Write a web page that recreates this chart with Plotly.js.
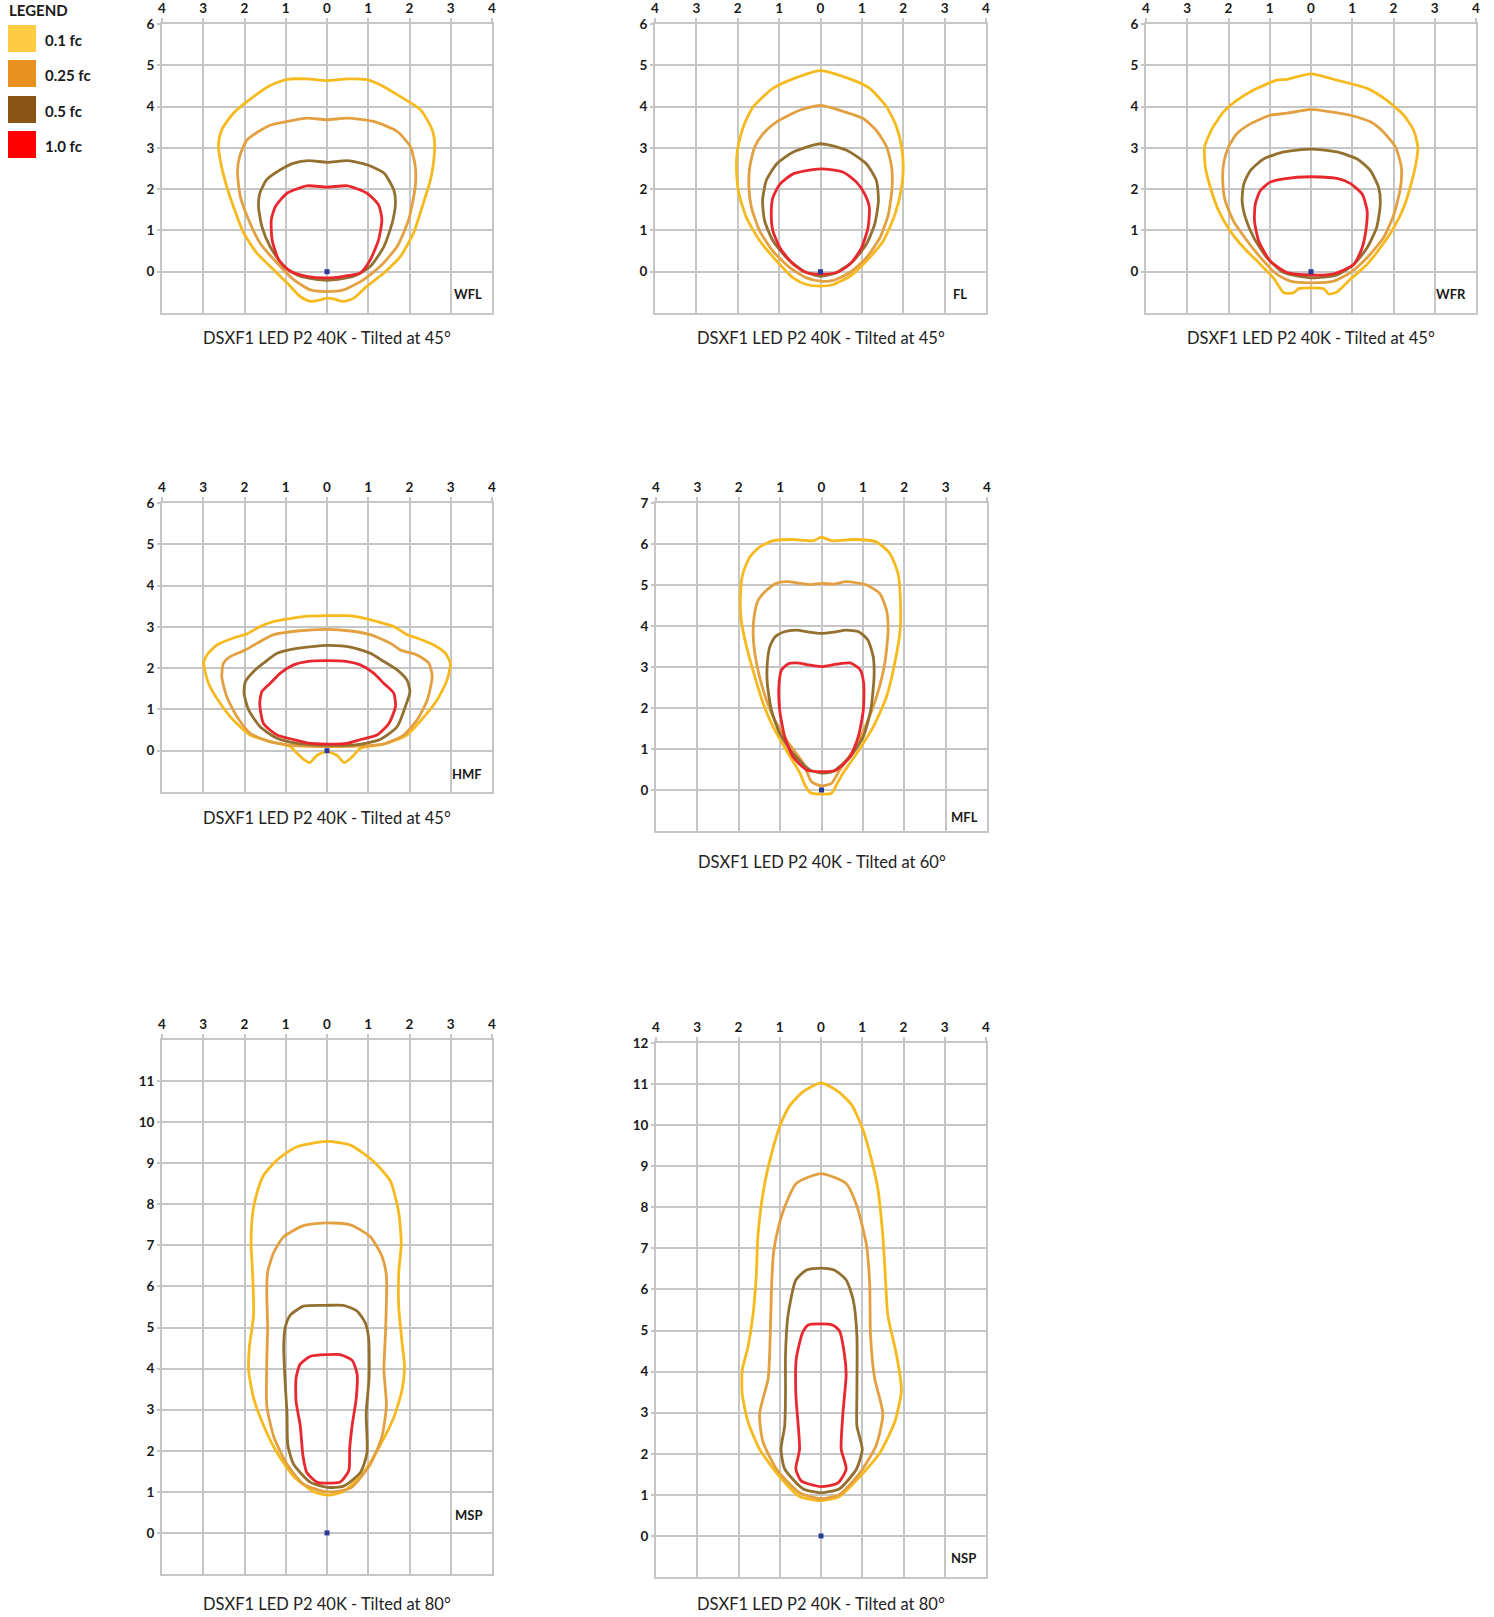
<!DOCTYPE html>
<html>
<head>
<meta charset="utf-8">
<script src="https://cdn.plot.ly/plotly-3.0.1.min.js"></script>
<style>html,body{margin:0;padding:0;background:#fff;}#chart{width:1494px;height:1617px;}</style>
</head>
<body>
<div id="chart"></div>
<script>
// ---------- categories / labels ----------
const levelNames = ['0.1 fc', '0.25 fc', '0.5 fc', '1.0 fc'];
const panelCodes = ['WFL', 'FL', 'WFR', 'HMF', 'MFL', 'MSP', 'NSP'];
const panelTitles = [
  'DSXF1 LED P2 40K - Tilted at 45°',
  'DSXF1 LED P2 40K - Tilted at 45°',
  'DSXF1 LED P2 40K - Tilted at 45°',
  'DSXF1 LED P2 40K - Tilted at 45°',
  'DSXF1 LED P2 40K - Tilted at 60°',
  'DSXF1 LED P2 40K - Tilted at 80°',
  'DSXF1 LED P2 40K - Tilted at 80°'
];
const xTickVals = [-4, -3, -2, -1, 0, 1, 2, 3, 4];
const xTickText = ['4', '3', '2', '1', '0', '1', '2', '3', '4'];
const yRangeMax = [6, 6, 6, 6, 7, 12, 12];
const yLabelMax = [6, 6, 6, 6, 7, 11, 12];

// ---------- isofootcandle contours (x, y in units of mounting height) ----------
const WFL_01 = [[0,4.63],[-0.5,4.67],[-0.97,4.66],[-1.4,4.5],[-1.78,4.24],[-2.27,3.84],[-2.55,3.44],[-2.63,3.11],[-2.59,2.71],[-2.43,2.06],[-2.27,1.58],[-2.02,0.94],[-1.70,0.45],[-1.38,0.13],[-0.97,-0.27],[-0.65,-0.60],[-0.40,-0.72],[-0.16,-0.68],[0,-0.64],[0.16,-0.66],[0.40,-0.72],[0.65,-0.64],[0.97,-0.35],[1.38,-0.03],[1.78,0.37],[2.10,0.94],[2.31,1.58],[2.51,2.23],[2.59,2.71],[2.61,3.11],[2.55,3.44],[2.27,3.92],[1.78,4.24],[1.4,4.47],[0.97,4.65],[0.5,4.67],[0,4.63]];
const WFL_025 = [[0,3.68],[-0.49,3.72],[-0.97,3.64],[-1.35,3.56],[-1.62,3.42],[-1.94,3.19],[-2.12,2.79],[-2.17,2.39],[-2.10,1.82],[-1.90,1.26],[-1.62,0.69],[-1.21,0.21],[-0.81,-0.19],[-0.40,-0.44],[0,-0.48],[0.40,-0.44],[0.89,-0.19],[1.29,0.13],[1.70,0.61],[1.98,1.26],[2.14,2.06],[2.14,2.55],[2.02,3.03],[1.70,3.40],[1.13,3.64],[0.49,3.72],[0,3.68]];
const WFL_05 = [[0,2.65],[-0.45,2.69],[-0.8,2.63],[-1.13,2.47],[-1.46,2.23],[-1.63,1.90],[-1.66,1.58],[-1.58,1.10],[-1.38,0.61],[-1.05,0.13],[-0.65,-0.11],[0,-0.21],[0.65,-0.11],[1.05,0.13],[1.38,0.61],[1.58,1.18],[1.66,1.66],[1.62,1.98],[1.38,2.39],[0.97,2.59],[0.5,2.69],[0,2.65]];
const WFL_10 = [[0,2.05],[-0.49,2.08],[-0.97,1.90],[-1.25,1.58],[-1.35,1.26],[-1.33,0.77],[-1.17,0.29],[-0.89,0.01],[-0.49,-0.11],[0,-0.15],[0.40,-0.11],[0.81,-0.03],[1.05,0.29],[1.25,0.77],[1.33,1.26],[1.25,1.62],[0.97,1.90],[0.5,2.08],[0,2.05]];

const FL_01 = [[0,4.87],[-0.74,4.64],[-1.15,4.44],[-1.63,3.99],[-1.87,3.50],[-2.01,2.93],[-2.03,2.45],[-1.97,1.88],[-1.79,1.31],[-1.47,0.75],[-1.06,0.26],[-0.66,-0.15],[-0.34,-0.31],[0,-0.35],[0.31,-0.31],[0.71,-0.11],[1.11,0.26],[1.52,0.75],[1.80,1.39],[1.96,2.04],[2.00,2.53],[1.96,3.02],[1.84,3.50],[1.60,3.99],[1.19,4.44],[0.79,4.64],[0,4.87]];
const FL_025 = [[0,4.03],[-0.50,3.91],[-1.06,3.63],[-1.39,3.34],[-1.59,3.02],[-1.71,2.53],[-1.73,2.04],[-1.67,1.56],[-1.47,0.99],[-1.15,0.50],[-0.74,0.10],[-0.34,-0.15],[0,-0.23],[0.31,-0.21],[0.71,-0.02],[1.11,0.34],[1.44,0.83],[1.64,1.39],[1.73,2.04],[1.72,2.53],[1.60,3.02],[1.35,3.42],[1.03,3.71],[0.47,3.91],[0,4.03]];
const FL_05 = [[0,3.10],[-0.66,2.90],[-1.06,2.61],[-1.31,2.21],[-1.40,1.72],[-1.35,1.23],[-1.15,0.75],[-0.82,0.34],[-0.42,0.02],[0,-0.11],[0.39,-0.02],[0.79,0.26],[1.11,0.67],[1.31,1.15],[1.40,1.72],[1.35,2.21],[1.11,2.61],[0.63,2.94],[0,3.10]];
const FL_10 = [[0,2.49],[-0.66,2.37],[-0.98,2.12],[-1.15,1.80],[-1.19,1.39],[-1.15,0.99],[-0.98,0.58],[-0.66,0.18],[-0.34,-0.02],[0,-0.06],[0.39,-0.02],[0.71,0.18],[0.99,0.58],[1.15,1.07],[1.18,1.56],[1.07,1.88],[0.87,2.17],[0.55,2.41],[0,2.49]];

const WFR_01 = [[0,4.79],[-0.58,4.66],[-0.83,4.64],[-1.39,4.40],[-1.80,4.15],[-2.12,3.87],[-2.40,3.46],[-2.58,3.02],[-2.56,2.53],[-2.44,2.04],[-2.24,1.48],[-1.96,0.99],[-1.63,0.58],[-1.23,0.18],[-0.91,-0.15],[-0.66,-0.51],[-0.42,-0.51],[-0.30,-0.41],[0,-0.39],[0.31,-0.41],[0.43,-0.54],[0.63,-0.49],[0.95,-0.19],[1.36,0.18],[1.68,0.58],[2.01,1.07],[2.25,1.56],[2.45,2.21],[2.57,2.77],[2.59,3.02],[2.49,3.42],[2.25,3.79],[1.84,4.15],[1.36,4.44],[0.63,4.64],[0,4.79]];
const WFR_025 = [[0,3.93],[-0.58,3.84],[-0.99,3.79],[-1.47,3.58],[-1.80,3.34],[-2.00,3.02],[-2.12,2.61],[-2.14,2.21],[-2.08,1.72],[-1.88,1.23],[-1.55,0.75],[-1.15,0.26],[-0.83,-0.06],[-0.50,-0.23],[0,-0.27],[0.55,-0.23],[0.95,-0.02],[1.36,0.34],[1.76,0.83],[2.01,1.39],[2.17,2.04],[2.19,2.53],[2.05,3.02],[1.76,3.38],[1.44,3.63],[0.95,3.79],[0.47,3.87],[0,3.93]];
const WFR_05 = [[0,2.97],[-0.66,2.90],[-1.15,2.73],[-1.47,2.45],[-1.63,2.12],[-1.67,1.72],[-1.59,1.31],[-1.39,0.83],[-1.07,0.34],[-0.66,-0.02],[0,-0.15],[0.63,-0.08],[1.04,0.18],[1.36,0.58],[1.59,1.07],[1.68,1.64],[1.64,2.04],[1.44,2.45],[1.12,2.73],[0.63,2.90],[0,2.97]];
const WFR_10 = [[0,2.30],[-0.66,2.25],[-0.99,2.17],[-1.23,1.96],[-1.35,1.64],[-1.37,1.23],[-1.27,0.75],[-0.99,0.26],[-0.58,-0.02],[0,-0.08],[0.55,-0.05],[1.04,0.18],[1.24,0.58],[1.34,1.07],[1.36,1.48],[1.24,1.88],[0.95,2.14],[0.63,2.26],[0,2.30]];

const HMF_01 = [[0,3.27],[-0.57,3.25],[-0.97,3.19],[-1.29,3.13],[-1.62,3.01],[-1.94,2.83],[-2.27,2.73],[-2.67,2.56],[-2.91,2.32],[-2.99,2.12],[-2.87,1.63],[-2.59,1.15],[-2.27,0.74],[-1.86,0.38],[-1.38,0.22],[-0.89,0.10],[-0.73,-0.06],[-0.57,-0.21],[-0.42,-0.29],[-0.24,-0.11],[0,-0.02],[0.24,-0.11],[0.42,-0.29],[0.61,-0.15],[0.81,0.06],[1.37,0.16],[1.94,0.38],[2.35,0.82],[2.67,1.23],[2.91,1.71],[2.99,2.12],[2.87,2.36],[2.59,2.56],[2.18,2.73],[1.94,2.81],[1.62,3.01],[1.21,3.13],[0.89,3.21],[0.49,3.27],[0,3.27]];
const HMF_025 = [[0,2.94],[-0.73,2.90],[-1.29,2.81],[-1.70,2.60],[-1.98,2.44],[-2.35,2.28],[-2.51,2.12],[-2.55,1.79],[-2.43,1.31],[-2.18,0.82],[-1.86,0.42],[-1.38,0.22],[-0.73,0.12],[0,0.10],[0.73,0.11],[1.37,0.16],[1.86,0.38],[2.18,0.74],[2.43,1.23],[2.55,1.79],[2.47,2.12],[2.18,2.32],[1.78,2.44],[1.54,2.60],[1.05,2.81],[0.57,2.90],[0,2.94]];
const HMF_05 = [[0,2.55],[-0.73,2.48],[-1.21,2.36],[-1.54,2.12],[-1.78,1.92],[-1.98,1.67],[-2.01,1.39],[-1.90,0.99],[-1.62,0.58],[-1.21,0.30],[-0.73,0.18],[0,0.13],[0.73,0.15],[1.29,0.27],[1.70,0.58],[1.90,1.07],[2.01,1.43],[1.94,1.71],[1.70,1.96],[1.38,2.16],[1.05,2.36],[0.57,2.51],[0,2.55]];
const HMF_10 = [[0,2.18],[-0.49,2.16],[-0.81,2.08],[-1.13,1.88],[-1.38,1.63],[-1.58,1.43],[-1.63,1.15],[-1.54,0.66],[-1.21,0.38],[-0.81,0.27],[-0.49,0.19],[0,0.16],[0.49,0.18],[0.81,0.27],[1.21,0.38],[1.50,0.66],[1.66,1.07],[1.62,1.39],[1.38,1.63],[1.13,1.88],[0.81,2.08],[0.49,2.16],[0,2.18]];

const MFL_01 = [[0,6.17],[-0.20,6.08],[-0.69,6.11],[-1.17,6.08],[-1.49,5.93],[-1.73,5.69],[-1.90,5.28],[-1.96,4.71],[-1.94,4.14],[-1.81,3.49],[-1.61,2.76],[-1.41,2.11],[-1.17,1.54],[-0.85,0.97],[-0.52,0.41],[-0.40,0.12],[-0.28,-0.06],[0,-0.10],[0.24,-0.08],[0.36,0.12],[0.52,0.41],[0.85,0.89],[1.25,1.54],[1.57,2.27],[1.77,3.09],[1.90,3.90],[1.91,4.55],[1.85,5.28],[1.65,5.77],[1.33,6.05],[0.77,6.11],[0.24,6.08],[0,6.17]];
const MFL_025 = [[0,5.04],[-0.28,5.01],[-0.85,5.08],[-1.09,5.04],[-1.33,4.87],[-1.53,4.63],[-1.63,4.22],[-1.65,3.74],[-1.57,3.09],[-1.41,2.44],[-1.17,1.79],[-0.85,1.22],[-0.44,0.65],[-0.24,0.20],[0,0.10],[0.24,0.16],[0.44,0.49],[0.77,0.97],[1.09,1.62],[1.33,2.27],[1.53,3.09],[1.61,3.90],[1.57,4.39],[1.41,4.79],[1.09,5.00],[0.60,5.08],[0.28,5.02],[0,5.04]];
const MFL_05 = [[0,3.82],[-0.3,3.85],[-0.6,3.90],[-0.9,3.86],[-1.12,3.74],[-1.25,3.49],[-1.31,3.09],[-1.31,2.60],[-1.21,1.95],[-1.01,1.38],[-0.69,0.89],[-0.28,0.49],[0,0.41],[0.28,0.45],[0.69,0.81],[1.01,1.30],[1.19,1.95],[1.27,2.76],[1.25,3.25],[1.12,3.66],[0.9,3.86],[0.6,3.90],[0.3,3.85],[0,3.82]];
const MFL_10 = [[0,3.01],[-0.36,3.06],[-0.6,3.1],[-0.80,3.08],[-0.97,2.92],[-1.03,2.52],[-1.01,1.95],[-0.89,1.30],[-0.69,0.81],[-0.36,0.49],[0,0.45],[0.36,0.49],[0.69,0.81],[0.89,1.30],[1.01,1.95],[1.02,2.60],[0.93,2.94],[0.69,3.10],[0.36,3.07],[0,3.01]];

const MSP_01 = [[0,9.53],[-0.73,9.40],[-1.21,9.08],[-1.54,8.70],[-1.70,8.27],[-1.80,7.79],[-1.84,7.03],[-1.80,6.26],[-1.78,5.30],[-1.88,4.54],[-1.90,3.96],[-1.78,3.29],[-1.54,2.62],[-1.21,1.95],[-0.81,1.38],[-0.32,1.00],[0.04,0.92],[0.40,1.01],[0.89,1.47],[1.29,2.14],[1.62,2.81],[1.82,3.48],[1.88,4.06],[1.82,4.63],[1.74,5.49],[1.74,6.35],[1.80,7.03],[1.74,7.79],[1.54,8.56],[1.13,9.04],[0.57,9.44],[0,9.53]];
const MSP_025 = [[0,7.55],[-0.57,7.48],[-1.05,7.21],[-1.29,6.83],[-1.44,6.35],[-1.46,5.88],[-1.44,5.01],[-1.46,4.15],[-1.46,3.10],[-1.29,2.34],[-0.97,1.67],[-0.57,1.19],[0,1.00],[0.57,1.09],[1.05,1.67],[1.33,2.34],[1.44,3.10],[1.38,3.96],[1.42,4.92],[1.44,6.26],[1.33,6.74],[1.05,7.21],[0.57,7.50],[0,7.55]];
const MSP_05 = [[0,5.54],[-0.57,5.52],[-0.89,5.30],[-1.01,5.01],[-1.05,4.54],[-1.01,3.58],[-0.97,2.91],[-0.95,2.14],[-0.81,1.67],[-0.40,1.23],[0,1.11],[0.40,1.14],[0.81,1.47],[0.97,1.95],[0.95,2.91],[1.02,3.77],[1.01,4.73],[0.93,5.11],[0.73,5.40],[0.40,5.54],[0,5.54]];
const MSP_10 = [[0,4.34],[-0.40,4.30],[-0.65,4.11],[-0.75,3.77],[-0.75,3.20],[-0.65,2.62],[-0.58,1.86],[-0.49,1.47],[-0.24,1.23],[0,1.21],[0.32,1.24],[0.53,1.52],[0.55,2.05],[0.61,2.62],[0.71,3.29],[0.73,3.87],[0.61,4.20],[0.32,4.34],[0,4.34]];

const NSP_01 = [[0,11.03],[-0.44,10.81],[-0.76,10.47],[-1.00,9.97],[-1.20,9.30],[-1.39,8.44],[-1.53,7.29],[-1.57,6.33],[-1.65,5.37],[-1.77,4.60],[-1.91,4.03],[-1.91,3.45],[-1.77,2.78],[-1.49,2.11],[-1.00,1.44],[-0.52,0.96],[0,0.86],[0.45,0.96],[0.94,1.44],[1.42,2.01],[1.79,2.78],[1.95,3.55],[1.83,4.41],[1.62,5.37],[1.56,6.33],[1.50,7.29],[1.38,8.44],[1.26,9.01],[1.02,9.88],[0.74,10.50],[0.41,10.82],[0,11.03]];
const NSP_025 = [[0,8.82],[-0.60,8.58],[-0.86,8.06],[-1.04,7.48],[-1.15,6.90],[-1.20,6.04],[-1.23,4.89],[-1.28,3.84],[-1.49,2.97],[-1.41,2.30],[-1.08,1.63],[-0.52,1.05],[0,0.91],[0.45,1.01],[0.94,1.53],[1.34,2.21],[1.50,2.97],[1.30,3.84],[1.20,4.89],[1.18,6.14],[1.10,7.10],[0.86,8.06],[0.61,8.58],[0,8.82]];
const NSP_05 = [[0,6.52],[-0.36,6.47],[-0.61,6.23],[-0.80,5.37],[-0.86,4.41],[-0.86,3.45],[-0.88,2.68],[-0.97,2.11],[-0.88,1.63],[-0.44,1.15],[0,1.05],[0.45,1.15],[0.86,1.63],[1.00,2.11],[0.87,2.68],[0.87,3.45],[0.87,4.89],[0.78,5.75],[0.61,6.23],[0.33,6.47],[0,6.52]];
const NSP_10 = [[0,5.16],[-0.32,5.13],[-0.45,4.94],[-0.60,4.31],[-0.61,3.45],[-0.52,2.11],[-0.61,1.63],[-0.48,1.34],[0,1.20],[0.41,1.29],[0.61,1.63],[0.49,2.11],[0.53,2.97],[0.61,3.93],[0.57,4.41],[0.45,4.99],[0.29,5.13],[0,5.16]];

const panelContours = [
  [WFL_01, WFL_025, WFL_05, WFL_10],
  [FL_01, FL_025, FL_05, FL_10],
  [WFR_01, WFR_025, WFR_05, WFR_10],
  [HMF_01, HMF_025, HMF_05, HMF_10],
  [MFL_01, MFL_025, MFL_05, MFL_10],
  [MSP_01, MSP_025, MSP_05, MSP_10],
  [NSP_01, NSP_025, NSP_05, NSP_10]
];
const fixturePoint = [0, 0];

// ---------- styling / layout (pixel boxes of each panel) ----------
const W = 1494, H = 1617;
const lineColors = ['#F6BA1E', '#E2A040', '#937030', '#E8282E'];
const swatchColors = ['#FFCC44', '#E89020', '#8A5512', '#FF0000'];
const boxes = [ // [left, right, top, bottom] in px
  [162, 492, 24, 313],
  [655, 986, 24, 313],
  [1146, 1476, 24, 313],
  [162, 492, 503, 792],
  [656, 987, 503, 831],
  [162, 492, 1040, 1574],
  [656, 986, 1043, 1577]
];
const titleY = [338, 338, 338, 818, 862, 1604, 1604];
const codePos = [[3.8, -0.54], [3.6, -0.55], [3.8, -0.55], [3.8, -0.57], [3.82, -0.65], [3.8, 0.44], [3.8, -0.54]];
const gridColor = '#C6C6C6';
const FONT = 'Lato, "Open Sans", sans-serif';

const px = v => v / W;
const py = v => 1 - v / H;

const traces = [];
const layout = {
  width: W, height: H,
  margin: {l: 0, r: 0, t: 0, b: 0},
  paper_bgcolor: '#fff', plot_bgcolor: '#fff',
  showlegend: false,
  annotations: [], shapes: []
};

panelContours.forEach((levels, i) => {
  const n = i + 1;
  const xa = n === 1 ? 'x' : 'x' + n;
  const ya = n === 1 ? 'y' : 'y' + n;
  const b = boxes[i];
  levels.forEach((pts, k) => {
    traces.push({
      type: 'scatter', mode: 'lines',
      x: pts.map(p => p[0]), y: pts.map(p => p[1]),
      xaxis: xa, yaxis: ya,
      name: levelNames[k],
      line: {color: lineColors[k], width: 2.8, shape: 'spline', smoothing: 0.6},
      hoverinfo: 'skip'
    });
  });
  traces.push({
    type: 'scatter', mode: 'markers',
    x: [fixturePoint[0]], y: [fixturePoint[1]],
    xaxis: xa, yaxis: ya,
    marker: {color: '#2B3A9A', size: 5, symbol: 'square'},
    hoverinfo: 'skip'
  });
  const yticks = [];
  for (let v = 0; v <= yLabelMax[i]; v++) yticks.push(v);
  layout[n === 1 ? 'xaxis' : 'xaxis' + n] = {
    domain: [px(b[0]), px(b[1])], anchor: ya,
    range: [-4, 4], side: 'top',
    tickvals: xTickVals, ticktext: xTickText,
    showgrid: true, gridcolor: gridColor, gridwidth: 2,
    zeroline: false, showline: true, mirror: true, linecolor: gridColor, linewidth: 2,
    ticks: 'outside', ticklen: 4, tickcolor: gridColor, tickwidth: 2,
    tickfont: {family: FONT, size: 13.5, color: '#1a1a1a', weight: 'bold'},
    fixedrange: true
  };
  layout[n === 1 ? 'yaxis' : 'yaxis' + n] = {
    domain: [py(b[3]), py(b[2])], anchor: xa,
    range: [-1, yRangeMax[i]],
    tickvals: yticks,
    showgrid: true, gridcolor: gridColor, gridwidth: 2,
    zeroline: false, showline: true, mirror: true, linecolor: gridColor, linewidth: 2,
    ticks: 'outside', ticklen: 3, tickcolor: gridColor, tickwidth: 2,
    tickfont: {family: FONT, size: 13.5, color: '#1a1a1a', weight: 'bold'},
    fixedrange: true
  };
  layout.annotations.push({
    xref: xa + ' domain', yref: 'paper', x: 0.5, y: py(titleY[i]),
    xanchor: 'center', yanchor: 'middle', showarrow: false,
    text: panelTitles[i], font: {family: FONT, size: 16.5, color: '#222'}
  });
  layout.annotations.push({
    xref: xa, yref: ya, x: codePos[i][0], y: codePos[i][1],
    xanchor: 'right', yanchor: 'middle', showarrow: false,
    text: panelCodes[i], font: {family: FONT, size: 13, color: '#1a1a1a', weight: 'bold'}
  });
});

// legend (top-left)
layout.annotations.push({
  xref: 'paper', yref: 'paper', x: px(7), y: py(10), xanchor: 'left', yanchor: 'middle',
  showarrow: false, text: 'LEGEND', font: {family: FONT, size: 15, color: '#1a1a1a', weight: 'bold'}
});
const swTop = [25, 60, 96, 131];
levelNames.forEach((name, k) => {
  layout.shapes.push({
    type: 'rect', xref: 'paper', yref: 'paper',
    x0: px(8), x1: px(36), y0: py(swTop[k] + 27), y1: py(swTop[k]),
    fillcolor: swatchColors[k], line: {width: 0}
  });
  layout.annotations.push({
    xref: 'paper', yref: 'paper', x: px(43), y: py(swTop[k] + 15), xanchor: 'left', yanchor: 'middle',
    showarrow: false, text: name, font: {family: FONT, size: 15, color: '#1a1a1a', weight: 'bold'}
  });
});

Plotly.newPlot('chart', traces, layout, {displayModeBar: false, staticPlot: true});
</script>
</body>
</html>
